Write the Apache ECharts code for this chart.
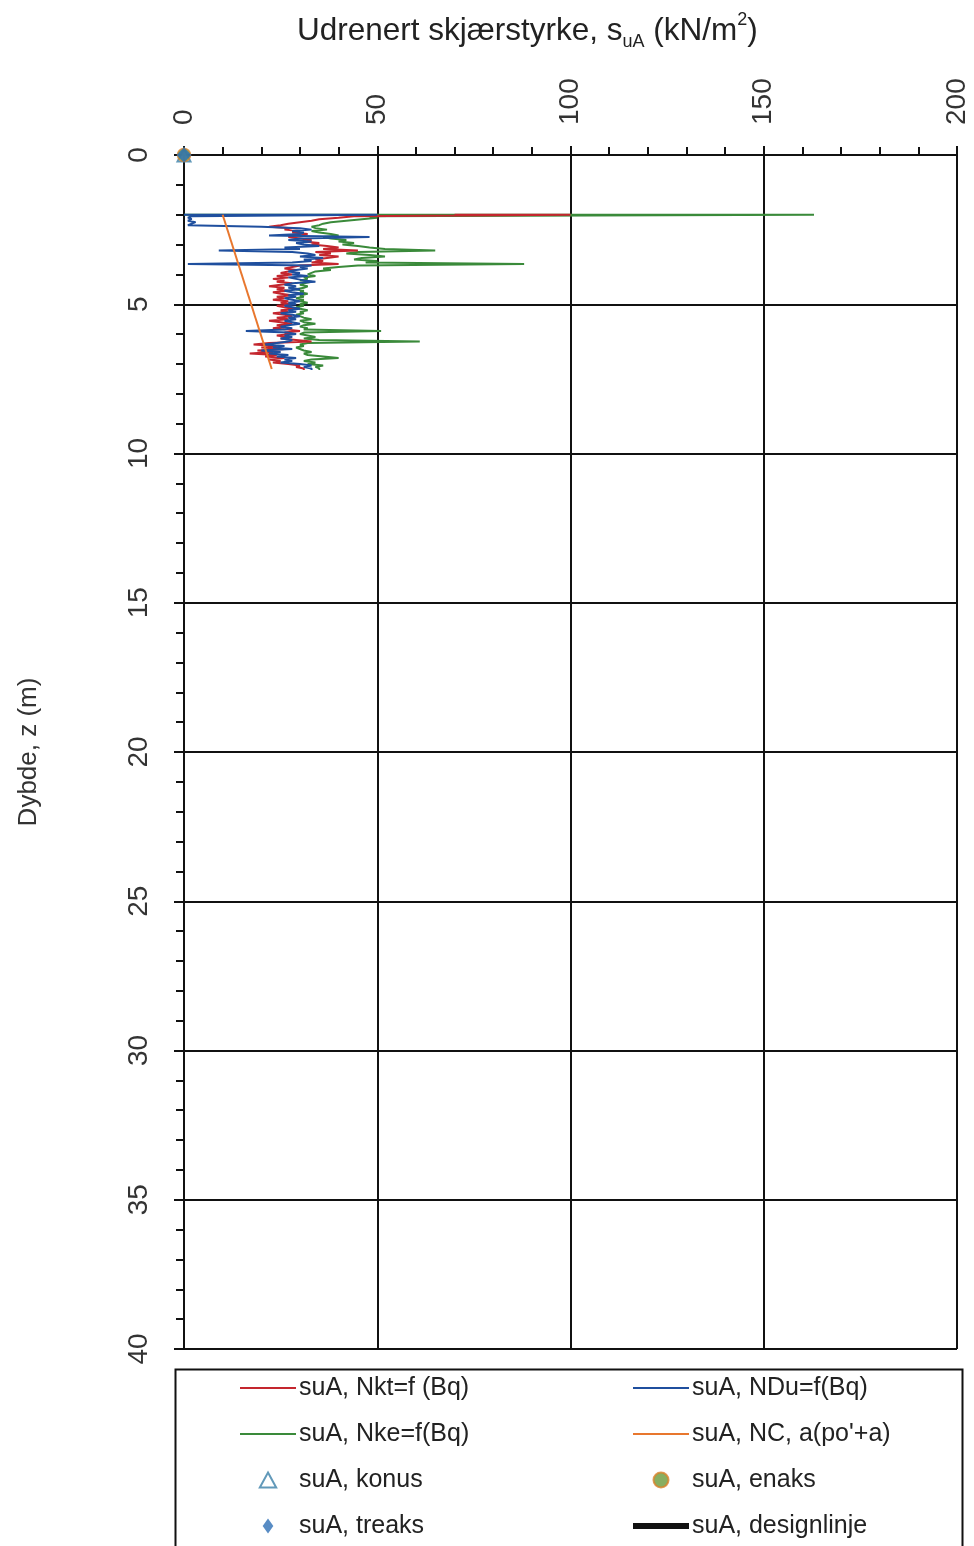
<!DOCTYPE html>
<html>
<head>
<meta charset="utf-8">
<script src="https://cdn.jsdelivr.net/npm/echarts@6/dist/echarts.min.js"></script>
<style>
html,body{margin:0;padding:0;background:#fff;}
#c{width:974px;height:1546px;}
</style>
</head>
<body>
<div id="c"></div>
<script>
// Depths (m)
const depths = [
 2.00,2.05,2.10,2.15,2.20,2.25,2.30,2.35,2.40,2.45,
 2.50,2.55,2.60,2.65,2.70,2.75,2.80,2.85,2.90,2.95,
 3.00,3.05,3.10,3.15,3.20,3.25,3.30,3.35,3.40,3.45,
 3.50,3.55,3.60,3.65,3.70,3.75,3.80,3.85,3.90,3.95,
 4.00,4.05,4.10,4.15,4.20,4.25,4.30,4.35,4.40,4.45,
 4.50,4.55,4.60,4.65,4.70,4.75,4.80,4.85,4.90,4.95,
 5.00,5.05,5.10,5.15,5.20,5.25,5.30,5.35,5.40,5.45,
 5.50,5.55,5.60,5.65,5.70,5.75,5.80,5.85,5.90,5.95,
 6.00,6.05,6.10,6.15,6.20,6.25,6.30,6.35,6.40,6.45,
 6.50,6.55,6.60,6.65,6.70,6.75,6.80,6.85,6.90,6.95,
 7.00,7.05,7.10,7.15,7.20
];
// suA, Nkt=f(Bq)
const nkt = [
 70,100,44,40,35,33,30,27,25,22,
 28,26,30,28,32,29,27,30,33,31,
 35,33,37,40,36,45,34,38,35,40,
 37,34,36,33,40,30,28,26,29,27,
 25,28,24,27,23,26,24,28,25,22,
 26,24,27,23,25,28,24,26,23,27,
 25,28,24,26,29,25,27,23,26,28,
 24,27,22,25,28,24,26,23,27,30,
 26,28,24,27,25,29,33,22,18,24,
 20,26,19,23,17,24,21,26,22,25,
 23,27,30,29,31
];
// suA, NDu=f(Bq)
const ndu = [
 0,50,2,1,2,1,3,2,1,20,
 30,33,28,31,30,22,48,30,27,33,
 29,31,35,26,30,9,28,32,34,30,
 36,31,33,28,1,33,30,32,29,27,
 30,28,32,27,29,31,34,28,26,29,
 27,30,26,28,31,27,29,26,28,30,
 27,29,26,28,30,27,29,25,28,30,
 27,29,26,28,30,27,25,28,26,16,
 27,29,26,28,25,28,27,24,21,26,
 23,28,20,25,22,27,24,29,26,28,
 25,30,33,31,33
];
// suA, Nke=f(Bq)
const nke = [
 0,163,48,50,46,42,38,36,35,33,
 34,37,33,35,38,40,36,38,42,40,
 44,41,45,48,52,65,45,42,48,52,
 46,44,50,47,88,45,40,36,38,34,
 33,32,34,31,32,30,33,31,30,32,
 31,29,31,30,32,30,31,29,31,30,
 32,30,31,29,30,32,30,31,29,30,
 31,33,30,31,34,31,30,32,31,51,
 31,30,32,34,31,35,61,32,30,31,
 29,30,31,33,31,32,36,40,33,31,
 34,32,36,34,35
];
// suA, NC, a(po'+a)
const ncDepths = [2.0, 7.17];
const ncValues = [10, 22.7];
// point tests
const konus = [[0, 0]];
const enaks = [[0, 0]];
const treaks = [[0, 0]];
const designlinje = [];

const xTicks = [0, 50, 100, 150, 200];
const yTicks = [0, 5, 10, 15, 20, 25, 30, 35, 40];

const names = {
  nkt: 'suA, Nkt=f (Bq)',
  ndu: 'suA, NDu=f(Bq)',
  nke: 'suA, Nke=f(Bq)',
  nc: "suA, NC, a(po'+a)",
  konus: 'suA, konus',
  enaks: 'suA, enaks',
  treaks: 'suA, treaks',
  design: 'suA, designlinje'
};

function pairs(vals, ds) { return vals.map((v, i) => [v, ds[i]]); }

const FONT = 'Liberation Sans, Arial, sans-serif';
const chart = echarts.init(document.getElementById('c'), null, {renderer: 'canvas'});

const lineBase = (name, data, color, z) => ({
  name, type: 'line', data, symbol: 'none', step: 'end', z,
  lineStyle: {color, width: 2}, itemStyle: {color}, animation: false
});

const LINE_ICON = 'path://M0,0H56V2H0Z';
const BAR_ICON = 'path://M0,0H56V6H0Z';
const TRI_ICON = 'path://M6,0L12,11H0Z';
const DIA_ICON = 'path://M5,0L10,7L5,14L0,7Z';
const legendCommon = {
  top: 1375, height: 220, padding: 0, orient: 'vertical', itemWidth: 56, itemHeight: 15, itemGap: 20,
  symbolKeepAspect: true,
  textStyle: {fontSize: 25, fontFamily: FONT, color: '#222', lineHeight: 26, padding: [0, 0, 0, -2]}
};

chart.setOption({
  animation: false,
  backgroundColor: '#fff',
  title: {
    text: '{a|Udrenert skjærstyrke, s}{sub|uA}{a| (kN/m}{sup|2}{a|)}',
    left: 292, top: 6,
    textStyle: {
      fontWeight: 'normal',
      rich: {
        a: {fontFamily: FONT, fontSize: 31.5, fontWeight: 'normal', color: '#222', lineHeight: 40, verticalAlign: 'middle'},
        sub: {fontFamily: FONT, fontSize: 18, fontWeight: 'normal', color: '#222', lineHeight: 40, verticalAlign: 'bottom'},
        sup: {fontFamily: FONT, fontSize: 18, fontWeight: 'normal', color: '#222', lineHeight: 40, verticalAlign: 'top'}
      }
    }
  },
  grid: {left: 184, right: 17, top: 155, bottom: 197, containLabel: false},
  xAxis: {
    type: 'value', position: 'top', min: xTicks[0], max: xTicks[xTicks.length - 1], interval: 50,
    axisLine: {show: true, lineStyle: {color: '#111', width: 2}},
    axisTick: {show: true, length: 9, lineStyle: {color: '#111', width: 2}},
    minorTick: {show: true, splitNumber: 5, length: 8, lineStyle: {color: '#111', width: 2}},
    splitLine: {show: true, lineStyle: {color: '#111', width: 2}},
    axisLabel: {rotate: 90, margin: 30, fontSize: 28, fontFamily: FONT, color: '#333', showMinLabel: true, showMaxLabel: true}
  },
  yAxis: {
    type: 'value', inverse: true, min: yTicks[0], max: yTicks[yTicks.length - 1], interval: 5,
    name: 'Dybde, z (m)', nameLocation: 'middle', nameGap: 142, nameRotate: 90,
    nameTextStyle: {fontSize: 26, fontFamily: FONT, color: '#333'},
    axisLine: {show: true, onZero: false, lineStyle: {color: '#111', width: 2}},
    axisTick: {show: true, length: 10, lineStyle: {color: '#111', width: 2}},
    minorTick: {show: true, splitNumber: 5, length: 8, lineStyle: {color: '#111', width: 2}},
    splitLine: {show: true, lineStyle: {color: '#111', width: 2}},
    axisLabel: {rotate: 90, margin: 31, fontSize: 28, fontFamily: FONT, color: '#333', showMinLabel: true, showMaxLabel: true}
  },
  legend: [
    Object.assign({left: 240, data: [
      {name: names.nkt, icon: LINE_ICON},
      {name: names.nke, icon: LINE_ICON},
      {name: names.konus, icon: TRI_ICON},
      {name: names.treaks, icon: DIA_ICON}
    ]}, legendCommon),
    Object.assign({left: 633, data: [
      {name: names.ndu, icon: LINE_ICON},
      {name: names.nc, icon: LINE_ICON},
      {name: names.enaks, icon: 'circle'},
      {name: names.design, icon: BAR_ICON}
    ]}, legendCommon)
  ],
  graphic: [{
    type: 'rect', left: 173, top: 1367, z: 100,
    shape: {width: 787, height: 200},
    style: {fill: 'none', stroke: '#111', lineWidth: 2}
  }],
  series: [
    lineBase(names.nkt, pairs(nkt, depths), '#c4262e', 3),
    lineBase(names.ndu, pairs(ndu, depths), '#1f4f9e', 4),
    lineBase(names.nke, pairs(nke, depths), '#3a8a3a', 2),
    {name: names.nc, type: 'line', data: pairs(ncValues, ncDepths), symbol: 'none', z: 5,
     lineStyle: {color: '#e8772e', width: 2}, itemStyle: {color: '#e8772e'}},
    {name: names.konus, type: 'scatter', data: konus, symbol: 'triangle', symbolSize: 13, z: 6, symbolKeepAspect: true,
     itemStyle: {color: '#fff', borderColor: '#3a7fa8', borderWidth: 2}},
    {name: names.enaks, type: 'scatter', data: enaks, symbol: 'circle', symbolSize: 13, z: 7, symbolKeepAspect: true,
     itemStyle: {color: '#6a9a3a', borderColor: '#d9822b', borderWidth: 1.5}},
    {name: names.treaks, type: 'scatter', data: treaks, symbol: 'diamond', symbolSize: 15, z: 8, symbolKeepAspect: true,
     itemStyle: {color: '#2e6fb5'}},
    {name: names.design, type: 'line', data: designlinje, symbol: 'none',
     lineStyle: {color: '#111', width: 6}, itemStyle: {color: '#111'}}
  ]
});
</script>
</body>
</html>
